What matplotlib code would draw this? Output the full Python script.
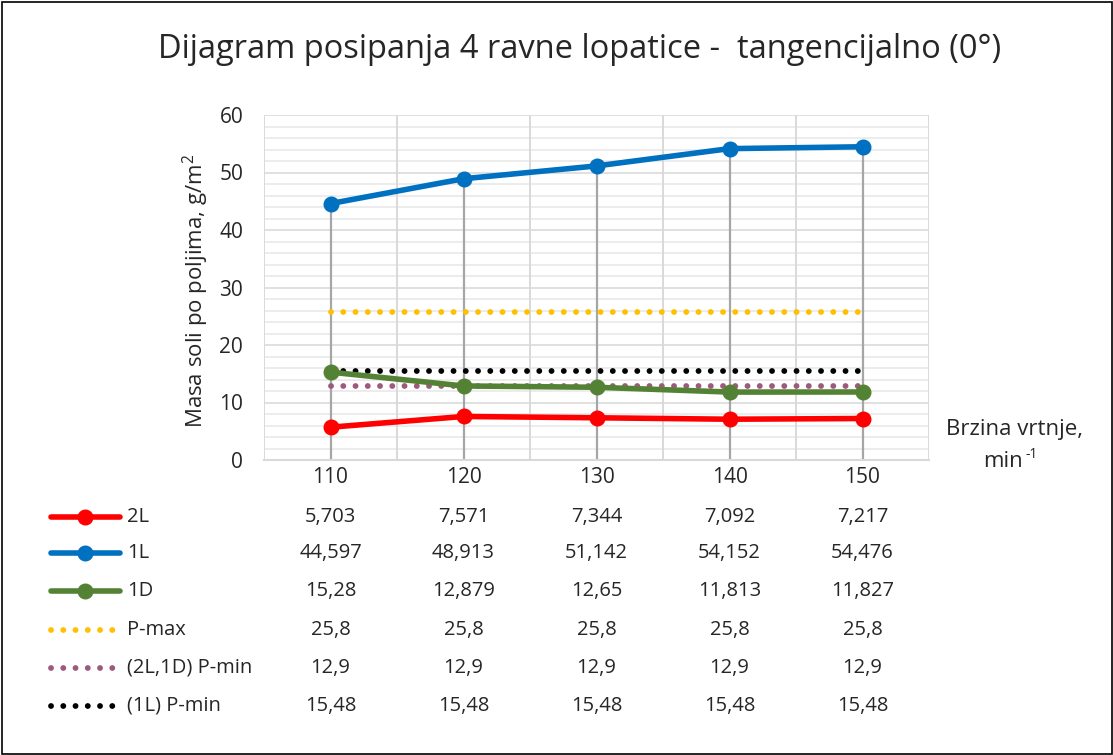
import matplotlib
matplotlib.use("Agg")
import matplotlib.pyplot as plt
import matplotlib.transforms as mtransforms
from matplotlib.lines import Line2D
from matplotlib.patches import Rectangle

FONT = 'Open Sans'
plt.rcParams['font.family'] = [FONT, 'DejaVu Sans']
plt.rcParams['mathtext.fontset'] = 'custom'
plt.rcParams['mathtext.rm'] = FONT
plt.rcParams['mathtext.it'] = FONT + ':italic'
plt.rcParams['mathtext.bf'] = FONT + ':bold'

# ---- data ----
categories = [110, 120, 130, 140, 150]
series_names = ["2L", "1L", "1D", "P-max", "(2L,1D) P-min", "(1L) P-min"]
s_2L = [5.703, 7.571, 7.344, 7.092, 7.217]
s_1L = [44.597, 48.913, 51.142, 54.152, 54.476]
s_1D = [15.28, 12.879, 12.65, 11.813, 11.827]
s_pmax = [25.8, 25.8, 25.8, 25.8, 25.8]
s_pmin_2l1d = [12.9, 12.9, 12.9, 12.9, 12.9]
s_pmin_1l = [15.48, 15.48, 15.48, 15.48, 15.48]
table_text = [
    ["5,703", "7,571", "7,344", "7,092", "7,217"],
    ["44,597", "48,913", "51,142", "54,152", "54,476"],
    ["15,28", "12,879", "12,65", "11,813", "11,827"],
    ["25,8", "25,8", "25,8", "25,8", "25,8"],
    ["12,9", "12,9", "12,9", "12,9", "12,9"],
    ["15,48", "15,48", "15,48", "15,48", "15,48"],
]
title = "Dijagram posipanja 4 ravne lopatice -  tangencijalno (0°)"
ylabel = "Masa soli po poljima, g/m$^\\mathrm{2}$"
xlabel_line1 = "Brzina vrtnje,"
xlabel_unit = "min"
xlabel_sup = "-1"

series_values = [s_2L, s_1L, s_1D, s_pmax, s_pmin_2l1d, s_pmin_1l]
colors = ["#FF0000", "#0070C0", "#548235", "#FFC000", "#9E5A7E", "#000000"]
solid = [True, True, True, False, False, False]

TXT = "#262626"
W, H = 1113, 755
fig = plt.figure(figsize=(W / 100, H / 100), dpi=100)
fig.patches.append(Rectangle((1.5 / W, 1.5 / H), 1 - 3 / W, 1 - 3 / H, transform=fig.transFigure,
                             fill=False, edgecolor="#000000", linewidth=1.2))

# axes placement in pixels
x0, x1 = 264, 929
y0, y1 = 460, 115
ax = fig.add_axes([x0 / W, 1 - y0 / H, (x1 - x0) / W, (y0 - y1) / H])
ax.set_xlim(105, 155)
ax.set_ylim(0, 60)

DOT = (0, (0.01, 2.09))

# gridlines
for v in range(0, 61, 2):
    ax.axhline(v, color="#ececec" if v % 10 else "#e0e0e0", lw=1.4, zorder=0)
for b in range(105, 156, 10):
    ax.axvline(b, color="#d9d9d9", lw=1.4, zorder=0)

# drop lines
for i, c in enumerate(categories):
    top = max(s[i] for s in series_values)
    ax.plot([c, c], [0, top], color="#a6a6a6", lw=1.6, zorder=1)

for vals, col, sol in zip(series_values, colors, solid):
    if sol:
        ax.plot(categories, vals, color=col, lw=4.0, marker="o", markersize=10.5,
                solid_capstyle="round", zorder=3)
    else:
        ax.plot(categories, vals, color=col, lw=4.2, linestyle=DOT,
                dash_capstyle="round", zorder=2)

for s in ["left", "right", "top"]:
    ax.spines[s].set_visible(False)
ax.spines["bottom"].set_color("#d9d9d9")
ax.spines["bottom"].set_linewidth(1.5)
ax.set_xticks(categories)
ax.set_xticklabels([str(c) for c in categories])
ax.set_yticks(range(0, 61, 10))
ax.tick_params(axis="both", length=0, labelsize=15, colors=TXT)
ax.tick_params(axis="x", pad=5)
ax.tick_params(axis="y", pad=15)

fig.text(580 / W, 1 - 50 / H, title, ha="center", va="center", fontsize=23.5, color=TXT)
fig.text(196 / W, 1 - 291 / H, ylabel, ha="center", va="center", rotation=90,
         fontsize=16, color=TXT)
fig.text(1014 / W, 1 - 430 / H, xlabel_line1, ha="center", va="center", fontsize=16, color=TXT)
fig.text(1023 / W, 1 - 461 / H, xlabel_unit, ha="right", va="center", fontsize=16, color=TXT)
fig.text(1025 / W, 1 - 454 / H, xlabel_sup, ha="left", va="center", fontsize=10, color=TXT)

# data table
row_y = [517, 553, 591, 630, 668, 706]
trans = mtransforms.blended_transform_factory(ax.transData, fig.transFigure)
for r, (name, col, sol) in enumerate(zip(series_names, colors, solid)):
    yy = 1 - row_y[r] / H
    if sol:
        fig.add_artist(Line2D([51 / W, 120 / W], [yy, yy], transform=fig.transFigure,
                              color=col, lw=4.0, solid_capstyle="round"))
        fig.add_artist(Line2D([85 / W], [yy], transform=fig.transFigure, color=col,
                              marker="o", markersize=10.5))
    else:
        fig.add_artist(Line2D([51 / W, 118 / W], [yy, yy], transform=fig.transFigure,
                              color=col, lw=4.2, linestyle=DOT,
                              dash_capstyle="round"))
    fig.text(127 / W, yy, name, ha="left", va="center", fontsize=14.5, color=TXT)
    for i, c in enumerate(categories):
        fig.text(c, yy, table_text[r][i], transform=trans, ha="center", va="center",
                 fontsize=14.5, color=TXT)

fig.savefig("out.png", dpi=100)
